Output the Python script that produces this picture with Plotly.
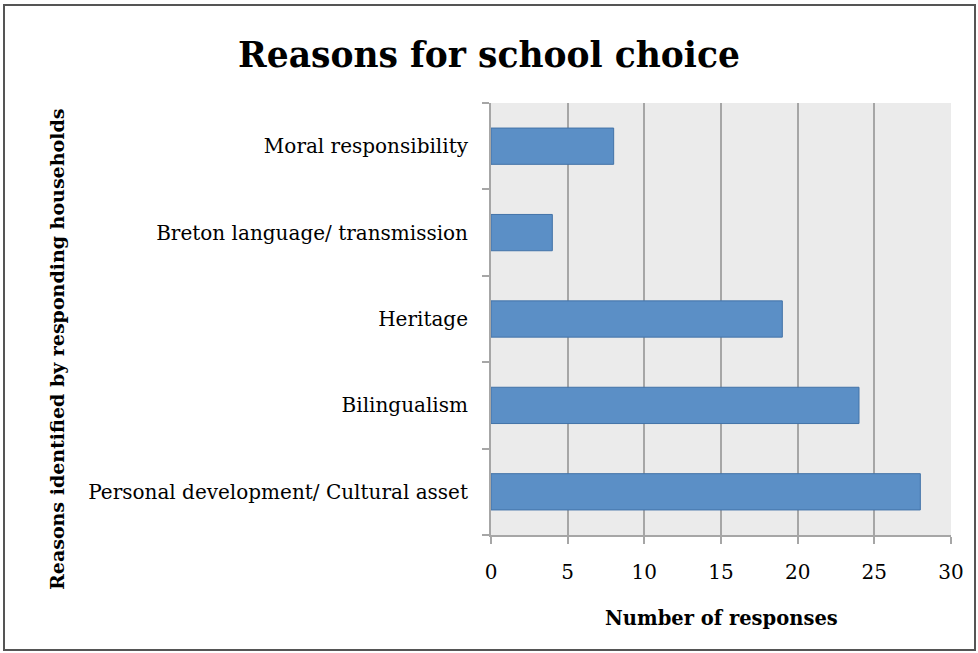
import plotly.graph_objects as go

categories = ["Personal development/ Cultural asset", "Bilingualism", "Heritage",
              "Breton language/ transmission", "Moral responsibility"]
values = [28, 24, 19, 4, 8]
x_ticks = [0, 5, 10, 15, 20, 25, 30]

W, H = 978, 653
L, R, T, B = 491, 27, 103, 118
pw, ph = W - L - R, H - T - B

def px(x):
    return (x - L) / pw

def py(y):
    return (H - B - y) / ph

fig = go.Figure()
fig.add_trace(go.Bar(
    y=categories, x=values, orientation="h",
    marker=dict(color="#5b8fc6", line=dict(color="#4373a8", width=1)),
    width=0.42,
))

serif = "DejaVu Serif, serif"
fig.update_layout(
    width=W, height=H,
    margin=dict(l=L, r=R, t=T, b=B),
    paper_bgcolor="white", plot_bgcolor="#ebebeb",
    showlegend=False,
    font=dict(family=serif, color="black", size=20),
    title=dict(text="<b>Reasons for school choice</b>", x=0.5, xanchor="center",
               y=1 - 55 / H, yanchor="middle", font=dict(size=34.5, family=serif)),
    xaxis=dict(range=[0, 30], tickvals=x_ticks, showgrid=True, gridcolor="#a6a6a6",
               gridwidth=2, zeroline=False, showline=True, linecolor="#a6a6a6", linewidth=2,
               ticks="outside", ticklen=7, tickcolor="#a6a6a6", tickwidth=2,
               tickfont=dict(size=20, family=serif), ticklabelstandoff=11,
               fixedrange=True),
    yaxis=dict(categoryorder="array", categoryarray=categories, showgrid=False,
               showline=True, linecolor="#a6a6a6", linewidth=2,
               ticks="outside", ticklen=7, tickcolor="#a6a6a6", tickwidth=2,
               tickson="boundaries", tickfont=dict(size=20, family=serif),
               ticklabelstandoff=17, fixedrange=True),
    annotations=[
        dict(text="<b>Number of responses</b>", xref="paper", yref="paper",
             x=0.5, y=py(618), xanchor="center", yanchor="middle", showarrow=False,
             font=dict(size=19.5, family=serif)),
        dict(text="<b>Reasons identified by responding households</b>", xref="paper",
             yref="paper", x=px(57), y=py(350), xanchor="center", yanchor="middle",
             textangle=-90, showarrow=False, font=dict(size=19, family=serif)),
    ],
    shapes=[
        dict(type="rect", xref="paper", yref="paper", x0=px(4), x1=px(975),
             y0=py(650), y1=py(5), line=dict(color="#555555", width=2), layer="below"),
    ],
)

fig.write_html("out.html", config={"displayModeBar": False},
               post_script="document.body.style.margin='0';document.body.style.padding='0';")
